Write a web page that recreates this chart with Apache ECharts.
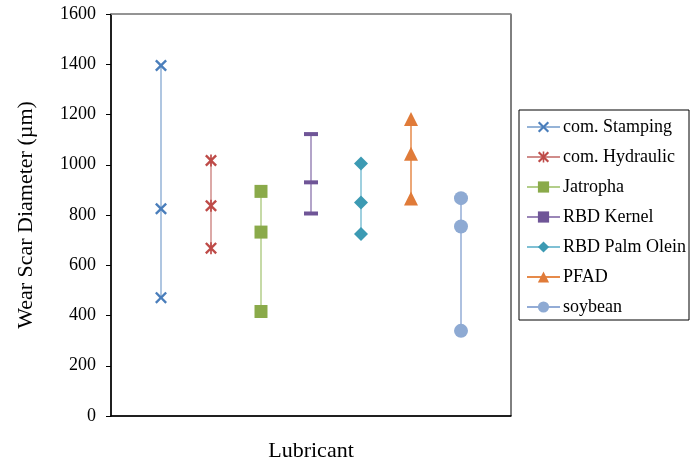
<!DOCTYPE html>
<html>
<head>
<meta charset="utf-8">
<script src="https://cdn.jsdelivr.net/npm/echarts@6/dist/echarts.min.js"></script>
<style>
html,body{margin:0;padding:0;background:#fff;}
#chart{width:691px;height:464px;}
</style>
</head>
<body>
<div id="chart"></div>
<script>
// lubricant names (legend) and their x slot on the plot
var lubricants = ["com. Stamping","com. Hydraulic","Jatropha","RBD Kernel","RBD Palm Olein","PFAD","soybean"];
var slots = [1,2,3,4,5,6,7];

// wear scar diameter readings (um), max / mean / min
var stampingVals = [1395,825,471];
var hydraulicVals = [1017,837,668];
var jatrophaVals = [894,732,416];
var kernelVals = [1122,930,806];
var palmOleinVals = [1005,850,724];
var pfadVals = [1182,1044,866];
var soybeanVals = [867,754,339];

var yTicks = [0,200,400,600,800,1000,1200,1400,1600];

var allVals = [stampingVals,hydraulicVals,jatrophaVals,kernelVals,palmOleinVals,pfadVals,soybeanVals];

var markerColors = ["#4a7ebb","#be4b48","#8aaa4a","#6f5597","#3c9ab3","#e07b39","#8eaad3"];
var lineColors = ["#95b3d7","#d08c8a","#b3ce8a","#9a86b7","#7fc0d4","#e68a4a","#93acd6"];

var crossPath = 'path://M0,1.4L1.4,0L5,3.6L8.6,0L10,1.4L6.4,5L10,8.6L8.6,10L5,6.4L1.4,10L0,8.6L3.6,5Z';
var starPath = 'path://M0,1.4L1.4,0L5,3.6L8.6,0L10,1.4L6.4,5L10,8.6L8.6,10L5,6.4L1.4,10L0,8.6L3.6,5Z M4.3,0L5.7,0L5.7,10L4.3,10Z';
var symbols = [crossPath, starPath, 'rect', 'rect', 'diamond', 'triangle', 'circle'];
var symbolSizes = [12, 12, 13, [14,4], 14, 14, 14];

var fontFamily = '"Liberation Serif","Times New Roman",serif';

function buildSeries(){
    var arr = [];
    for(var i=0;i<lubricants.length;i++){
        var pts = [];
        for(var j=0;j<allVals[i].length;j++){
            pts.push([slots[i], allVals[i][j]]);
        }
        arr.push({
            name: lubricants[i],
            type: 'line',
            data: pts,
            symbol: symbols[i],
            symbolSize: symbolSizes[i],
            showAllSymbol: true,
            animation: false,
            lineStyle: { color: lineColors[i], width: 1.5 },
            itemStyle: { color: markerColors[i], borderWidth: 0 },
            emphasis: { disabled: true }
        });
    }
    return arr;
}

var option = {
    backgroundColor: '#fff',
    animation: false,
    textStyle: { fontFamily: fontFamily, color: '#000' },
    grid: {
        left: 111, right: 180, top: 14, bottom: 48,
        outerBoundsMode: 'none', containLabel: false,
        show: true, borderColor: '#000', borderWidth: 1, backgroundColor: 'transparent'
    },
    legend: {
        orient: 'vertical',
        left: 519, top: 110,
        padding: [8, 3, 4, 7],
        itemWidth: 33, itemHeight: 14, itemGap: 12,
        borderColor: '#000', borderWidth: 1,
        backgroundColor: '#fff',
        textStyle: { fontFamily: fontFamily, fontSize: 18, color: '#000', padding: [0,0,0,-2] },
        data: lubricants
    },
    xAxis: [{
        type: 'value', min: 0, max: 8, interval: 1,
        name: 'Lubricant', nameLocation: 'middle', nameGap: 24,
        nameTextStyle: { fontFamily: fontFamily, fontSize: 22, color: '#000' },
        axisLine: { show: true, lineStyle: { color: '#000', width: 1.5 } },
        axisTick: { show: false }, axisLabel: { show: false }, splitLine: { show: false }
    }, {
        type: 'value', min: 0, max: 8, position: 'top',
        axisLine: { show: true, lineStyle: { color: '#9a9a9a', width: 1.5 } },
        axisTick: { show: false }, axisLabel: { show: false }, splitLine: { show: false }
    }],
    yAxis: {
        type: 'value', min: yTicks[0], max: yTicks[yTicks.length-1], interval: 200,
        name: 'Wear Scar Diameter (\u00b5m)', nameLocation: 'middle', nameGap: 74,
        nameTextStyle: { fontFamily: fontFamily, fontSize: 22, color: '#000' },
        axisLine: { show: true, lineStyle: { color: '#000', width: 1.5 } },
        axisTick: { show: true, length: 5, lineStyle: { color: '#000' } },
        axisLabel: { fontFamily: fontFamily, fontSize: 18, color: '#000', margin: 15,
            formatter: function (v) { return String(v); } },
        splitLine: { show: false }
    },
    series: buildSeries()
};

var chart = echarts.init(document.getElementById('chart'));
chart.setOption(option, true);
</script>
</body>
</html>
